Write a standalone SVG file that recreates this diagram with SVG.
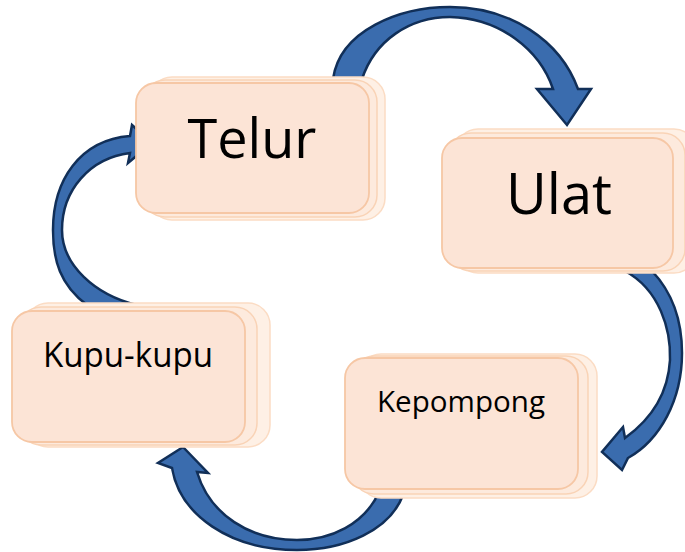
<svg xmlns="http://www.w3.org/2000/svg" width="685" height="552" viewBox="0 0 685 552">
<defs>
<style>
.arrow{fill:#3a6cae;stroke:#112f58;stroke-width:2.5;stroke-linejoin:miter}
.back2{fill:#fef0e5;stroke:#fbdcc4;stroke-width:1.5}
.back1{fill:#fdeadd;stroke:#f9d3b6;stroke-width:1.5}
.front{fill:#fce4d6;stroke:#f6c7a5;stroke-width:1.8}
.lbl{font-family:"Open Sans","DejaVu Sans",sans-serif;fill:#000;text-anchor:middle}
</style>
</defs>
<rect width="685" height="552" fill="#fff"/>
<g id="connectors">
<path class="arrow" d="M333,79 C340,30 400,7 450,7 C510,7 560,40 578,89 L591,89 L567,125 L537,89 L553,89 C540,50 500,18 450,17 C410,17 375,40 362,79 Z"/>
<path class="arrow" d="M625,271 C660,290 671,330 670,360 C668,395 650,420 625,438 L623,427 L602,452 L622,470 L628,458 C660,440 682,400 682,353 C682,315 670,290 652,271 Z"/>
<path class="arrow" d="M380,490 C365,525 330,540 297,540 C250,540 210,515 197,472 L208,473 L183,447 L158,463 L172,468 C180,515 230,550 297,550 C345,550 390,530 403,495 Z"/>
<path class="arrow" d="M87,305 C60,285 53,260 53,230 C53,180 80,140 130,136 L132,125 L152,143 L128,163 L130,153 C90,158 62,190 62,230 C62,265 95,295 137,305 Z"/>
</g>
<g id="telur">
<rect class="back2" x="150" y="77" width="235" height="143" rx="22"/>
<rect class="back1" x="143" y="80" width="234" height="137" rx="22"/>
<rect class="front" x="136" y="83" width="233" height="130" rx="20"/>
<text class="lbl" x="252" y="158" font-size="54">Telur</text>
</g>
<g id="ulat">
<rect class="back2" x="456" y="129" width="240" height="144" rx="22"/>
<rect class="back1" x="449" y="133" width="236" height="138" rx="22"/>
<rect class="front" x="442" y="138" width="231" height="130" rx="20"/>
<text class="lbl" x="559" y="214" font-size="56">Ulat</text>
</g>
<g id="kupukupu">
<rect class="back2" x="26" y="303" width="244" height="144" rx="22"/>
<rect class="back1" x="19" y="307" width="238" height="138" rx="22"/>
<rect class="front" x="12" y="311" width="233" height="131" rx="20"/>
<text class="lbl" x="128" y="367" font-size="34" textLength="170" lengthAdjust="spacingAndGlyphs">Kupu-kupu</text>
</g>
<g id="kepompong">
<rect class="back2" x="359" y="354" width="238" height="144" rx="22"/>
<rect class="back1" x="352" y="356" width="236" height="138" rx="22"/>
<rect class="front" x="345" y="358" width="233" height="131" rx="20"/>
<text class="lbl" x="461" y="412" font-size="30" textLength="168" lengthAdjust="spacingAndGlyphs">Kepompong</text>
</g>
</svg>
